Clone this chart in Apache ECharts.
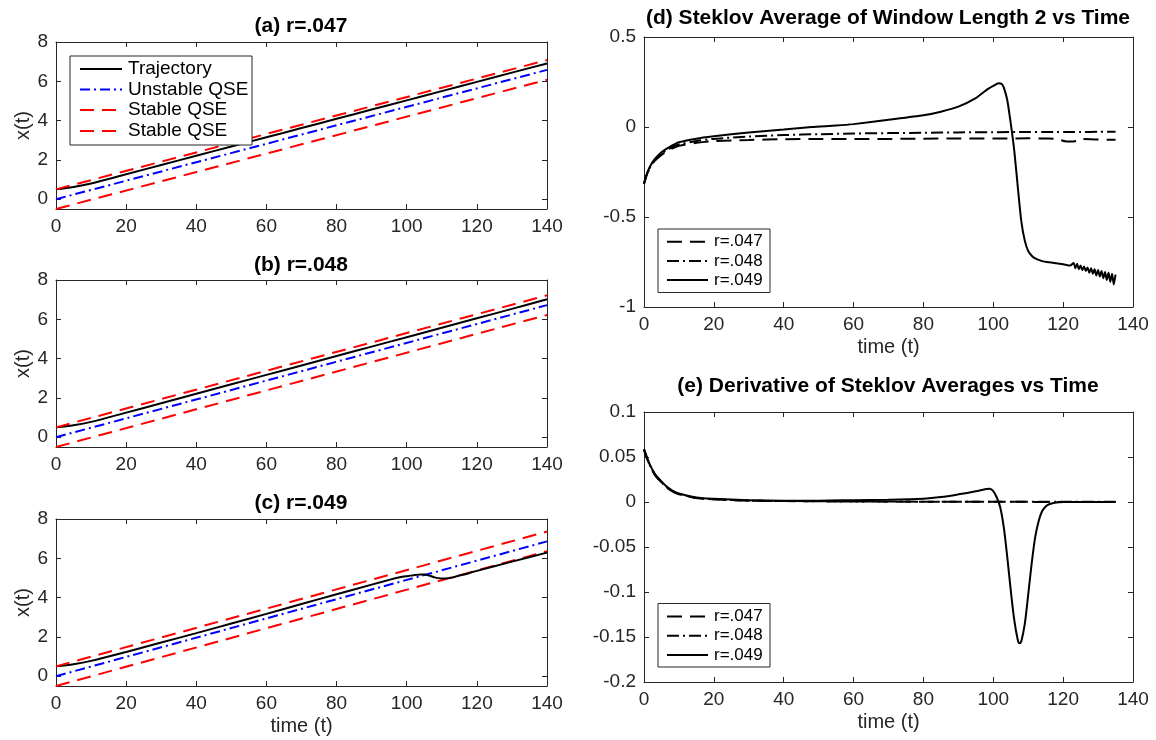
<!DOCTYPE html>
<html><head><meta charset="utf-8">
<script src="https://cdn.jsdelivr.net/npm/echarts@6/dist/echarts.min.js"></script>
<style>html,body{margin:0;padding:0;background:#fff}#c{width:1156px;height:740px}</style>
</head><body><div id="c"></div>
<script>
// ---------- data ----------
const tTicks = [0, 20, 40, 60, 80, 100, 120, 140];
// QSE lines (straight): endpoints at t=0 and t=140
const qseT = [0, 140];
const aUpper = [0.5, 7.08], aUnst = [0, 6.58], aLower = [-0.5, 6.08];
const bUpper = [0.5, 7.22], bUnst = [0, 6.72], bLower = [-0.5, 6.22];
const cUpper = [0.5, 7.36], cUnst = [0, 6.86], cLower = [-0.5, 6.36];
// trajectories
const trajT = [0,5,10,20,30,40,50,60,70,80,90,100,110,120,130,140];
const trajA = [0.5,0.62,0.80,1.27,1.74,2.21,2.68,3.15,3.62,4.09,4.56,5.03,5.50,5.97,6.44,6.91];
const trajB = [0.5,0.61,0.78,1.25,1.73,2.21,2.69,3.17,3.65,4.13,4.61,5.09,5.57,6.05,6.53,7.02];
const trajCT = [0,5,10,20,30,40,50,60,70,80,90,95,98,100,102,104,105,106,107,108,109,110,111,112,114,116,120,130,140];
const trajC = [0.5,0.61,0.78,1.23,1.71,2.19,2.68,3.17,3.67,4.17,4.66,4.90,5.03,5.09,5.14,5.17,5.17,5.14,5.09,5.03,4.99,4.97,4.97,4.99,5.07,5.16,5.36,5.83,6.29];
// (d) Steklov averages
const dT = [0,1,2,3,5,7,10,15,20,30,40,50,60,70,80,90,100,110,115,118,121,123,125,130,135];
const dX47 = [-0.315,-0.255,-0.22,-0.19,-0.155,-0.13,-0.105,-0.088,-0.078,-0.072,-0.068,-0.067,-0.066,-0.066,-0.065,-0.064,-0.064,-0.063,-0.064,-0.066,-0.08,-0.08,-0.066,-0.07,-0.071];
const dX48 = [-0.315,-0.252,-0.215,-0.185,-0.15,-0.122,-0.097,-0.078,-0.066,-0.053,-0.045,-0.04,-0.036,-0.034,-0.032,-0.03,-0.029,-0.028,-0.028,-0.028,-0.028,-0.028,-0.028,-0.027,-0.027];
const dT49 = [0,1,2,3,5,7,10,15,20,30,40,48,55,60,70,80,85,90,95,98,100,101.5,102.5,103,104,105,106,107,108,109,110,111,112,114,116,118,120,122,123,123.5,124,124.5,125,125.5,126,126.5,127,127.5,128,128.5,129,129.5,130,130.5,131,131.5,132,132.5,133,133.5,134,134.5,135];
const dX49 = [-0.315,-0.25,-0.21,-0.18,-0.14,-0.115,-0.085,-0.065,-0.052,-0.03,-0.014,0.0,0.008,0.016,0.04,0.065,0.085,0.113,0.16,0.205,0.228,0.243,0.238,0.22,0.15,0.02,-0.13,-0.33,-0.52,-0.63,-0.69,-0.715,-0.73,-0.745,-0.752,-0.757,-0.762,-0.77,-0.755,-0.785,-0.76,-0.79,-0.77,-0.795,-0.775,-0.8,-0.78,-0.81,-0.785,-0.815,-0.79,-0.825,-0.795,-0.83,-0.8,-0.84,-0.805,-0.85,-0.81,-0.86,-0.815,-0.875,-0.82];
// (e) derivatives
const eT = [0,1,2,3,4,6,8,10,15,20,30,40,60,80,100,120,135];
const eX47 = [0.058,0.047,0.038,0.031,0.026,0.018,0.012,0.0085,0.0045,0.003,0.0015,0.001,0.0005,0.0003,0.0002,0.0001,0.0001];
const eX48 = [0.058,0.047,0.038,0.031,0.026,0.018,0.0125,0.009,0.0045,0.003,0.0016,0.0011,0.0006,0.0004,0.0003,0.0002,0.0002];
const eT49 = [0,1,2,3,4,6,8,10,15,20,30,40,50,60,70,80,85,90,95,98,99,100,101,102,103,104,105,106,107,107.5,108,109,110,111,112,113,114,115,116,118,120,135];
const eX49 = [0.059,0.048,0.039,0.032,0.027,0.019,0.013,0.0095,0.005,0.0035,0.002,0.0015,0.0015,0.002,0.0025,0.0037,0.0055,0.0085,0.012,0.0145,0.0148,0.012,0.005,-0.006,-0.028,-0.061,-0.098,-0.131,-0.153,-0.157,-0.155,-0.136,-0.103,-0.068,-0.039,-0.021,-0.01,-0.005,-0.0025,-0.0005,0,0];

const titles = ['(a) r=.047', '(b) r=.048', '(c) r=.049',
  '(d) Steklov Average of Window Length 2 vs Time', '(e) Derivative of Steklov Averages vs Time'];
const leftLegend = ['Trajectory', 'Unstable QSE', 'Stable QSE', 'Stable QSE'];
const rightLegend = ['r=.047', 'r=.048', 'r=.049'];

// ---------- styling ----------
const FONT = '"Liberation Sans", Arial, Helvetica, sans-serif';
const AX = '#262626';
const DASH = [14, 8];
const DASHDOT = [10, 4, 2, 4];
const DASH_R = [15, 8];
const DASHDOT_R = [12, 4, 2, 4];
const zip = (t, v) => t.map((x, i) => [x, v[i]]);

const grids = [
  {left: 56, top: 42, width: 491, height: 167},
  {left: 56, top: 280, width: 491, height: 167},
  {left: 56, top: 519, width: 491, height: 167},
  {left: 644, top: 37, width: 489, height: 270},
  {left: 644, top: 412, width: 489, height: 270}
];
const yRanges = [
  {min: -0.5, max: 8}, {min: -0.5, max: 8}, {min: -0.5, max: 8},
  {min: -1, max: 0.5, interval: 0.5}, {min: -0.2, max: 0.1, interval: 0.05}
];

const xAxes = [], yAxes = [];
grids.forEach((g, i) => {
  const fs = 19;
  const base = {
    gridIndex: i, type: 'value', min: 0, max: 140, interval: 20,
    splitLine: {show: false},
    axisLine: {show: true, onZero: false, lineStyle: {color: AX, width: 1}},
    axisTick: {show: true, inside: true, length: 5, lineStyle: {color: AX}}
  };
  xAxes.push(Object.assign({}, base, {
    position: 'bottom',
    axisLabel: {show: true, color: AX, fontSize: fs, fontFamily: FONT, margin: 8},
    name: (i === 2 || i >= 3) ? 'time (t)' : '',
    nameLocation: 'middle', nameGap: 30,
    nameTextStyle: {color: AX, fontSize: 20, fontFamily: FONT}
  }));
  xAxes.push(Object.assign({}, base, {position: 'top', axisLabel: {show: false}}));
  const yr = yRanges[i];
  const ybase = {
    gridIndex: i, type: 'value', min: yr.min, max: yr.max,
    splitLine: {show: false},
    axisLine: {show: true, onZero: false, lineStyle: {color: AX, width: 1}},
    axisTick: {show: true, inside: true, length: 5, lineStyle: {color: AX}}
  };
  if (yr.interval) ybase.interval = yr.interval; else ybase.splitNumber = 4;
  yAxes.push(Object.assign({}, ybase, {
    position: 'left',
    axisLabel: {show: true, color: AX, fontSize: fs, fontFamily: FONT, margin: 8,
      showMinLabel: !!yr.interval,
      formatter: v => (Math.abs(v - (-0.5)) < 1e-9 && !yr.interval) ? '' : String(+v.toFixed(4))},
    name: i < 3 ? 'x(t)' : '',
    nameLocation: 'middle', nameGap: 19,
    nameTextStyle: {color: AX, fontSize: 20, fontFamily: FONT}
  }));
  yAxes.push(Object.assign({}, ybase, {position: 'right', axisLabel: {show: false}}));
});

function ln(i, data, color, type, smooth) {
  return {
    type: 'line', xAxisIndex: 2 * i, yAxisIndex: 2 * i, data: data,
    showSymbol: false, symbol: 'none', smooth: smooth || false, animation: false,
    lineStyle: {color: color, width: 2, type: type}, z: 3
  };
}
const series = [];
const upp = [aUpper, bUpper, cUpper], uns = [aUnst, bUnst, cUnst], low = [aLower, bLower, cLower];
const trajs = [zip(trajT, trajA), zip(trajT, trajB), zip(trajCT, trajC)];
for (let i = 0; i < 3; i++) {
  series.push(ln(i, zip(qseT, low[i]), '#ff0000', DASH));
  series.push(ln(i, zip(qseT, uns[i]), '#0000ff', DASHDOT));
  series.push(ln(i, trajs[i], '#000000', 'solid', 0.3));
  series.push(ln(i, zip(qseT, upp[i]), '#ff0000', DASH));
}
series.push(ln(3, zip(dT, dX47), '#000', DASH_R, 0.3));
series.push(ln(3, zip(dT, dX48), '#000', DASHDOT_R, 0.3));
series.push(ln(3, zip(dT49, dX49), '#000', 'solid', 0.2));
series.push(ln(4, zip(eT, eX47), '#000', DASH_R, 0.3));
series.push(ln(4, zip(eT, eX48), '#000', DASHDOT_R, 0.3));
series.push(ln(4, zip(eT49, eX49), '#000', 'solid', 0.3));

// ---------- graphics: titles and legends ----------
const graphic = [];
const titlePos = [[301, 26], [301, 265], [301, 503], [888, 18], [888, 386]];
titles.forEach((t, i) => graphic.push({
  type: 'text', x: titlePos[i][0], y: titlePos[i][1], z: 100,
  style: {text: t, fill: '#000', font: 'bold 21px ' + FONT, textAlign: 'center', textVerticalAlign: 'middle'}
}));
function legend(x, y, w, h, rows, fs, lx0, lx1, tx) {
  graphic.push({type: 'rect', shape: {x: x, y: y, width: w, height: h}, z: 100,
    style: {fill: '#fff', stroke: AX, lineWidth: 1}});
  rows.forEach(r => {
    graphic.push({type: 'line', z: 101, shape: {x1: lx0, y1: r.y, x2: lx1, y2: r.y},
      style: {stroke: r.color, lineWidth: 2, lineDash: r.dash}});
    graphic.push({type: 'text', z: 101, x: tx, y: r.y,
      style: {text: r.text, fill: '#000', font: fs + 'px ' + FONT, textVerticalAlign: 'middle'}});
  });
}
legend(70, 56, 182, 89, [
  {y: 69, color: '#000', dash: null, text: leftLegend[0]},
  {y: 89.5, color: '#0000ff', dash: DASHDOT, text: leftLegend[1]},
  {y: 110, color: '#ff0000', dash: DASH, text: leftLegend[2]},
  {y: 131, color: '#ff0000', dash: DASH, text: leftLegend[3]}
], 19, 80, 122, 128);
[[229, 241.7], [603.5, 616.5]].forEach(([top, r0]) => {
  legend(658, top, 112, 63.5, [
    {y: r0, color: '#000', dash: DASH_R, text: rightLegend[0]},
    {y: r0 + 19.2, color: '#000', dash: DASHDOT_R, text: rightLegend[1]},
    {y: r0 + 38.4, color: '#000', dash: null, text: rightLegend[2]}
  ], 17, 667, 708, 714);
});

const chart = echarts.init(document.getElementById('c'), null, {renderer: 'canvas'});
chart.setOption({
  animation: false, backgroundColor: '#fff',
  grid: grids, xAxis: xAxes, yAxis: yAxes, series: series, graphic: graphic
});
</script></body></html>
